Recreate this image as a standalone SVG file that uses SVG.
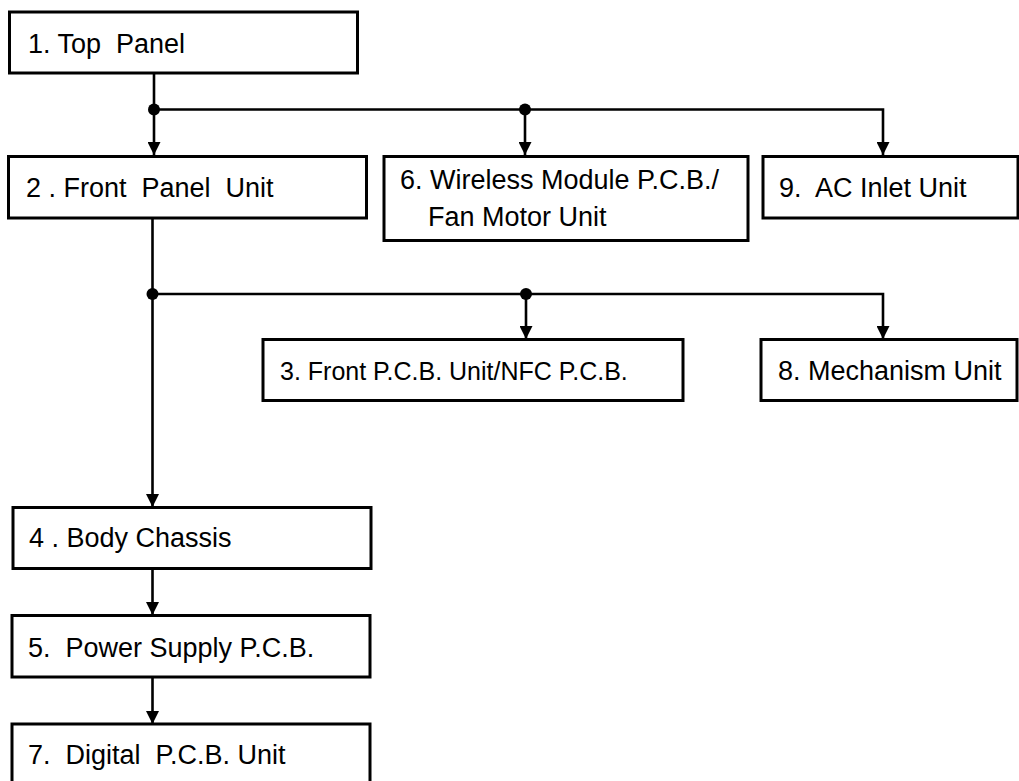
<svg xmlns="http://www.w3.org/2000/svg" width="1019" height="781" viewBox="0 0 1019 781">
<style>
.box{fill:#fff;stroke:#000;stroke-width:3}
.lbl{font-family:"Liberation Sans",Arial,sans-serif;font-size:27px;fill:#000;white-space:pre}
.ln{fill:none;stroke:#000;stroke-width:2.6}
.dot{fill:#000}
</style>
<defs>
<marker id="ah" markerUnits="userSpaceOnUse" markerWidth="13" markerHeight="13" refX="13" refY="6.5" orient="auto">
<path d="M0,0 L13,6.5 L0,13 z" fill="#000"/>
</marker>
</defs>
<g id="connectors">
<path class="ln" d="M154,73 V155" marker-end="url(#ah)"/>
<path class="ln" d="M154,109.5 H883 V155" marker-end="url(#ah)"/>
<path class="ln" d="M525,109.5 V155" marker-end="url(#ah)"/>
<circle class="dot" cx="154" cy="109.5" r="6"/>
<circle class="dot" cx="525" cy="109.5" r="6"/>
<path class="ln" d="M152.5,218 V507" marker-end="url(#ah)"/>
<path class="ln" d="M152.5,294 H883 V339" marker-end="url(#ah)"/>
<path class="ln" d="M526,294 V339" marker-end="url(#ah)"/>
<circle class="dot" cx="152.5" cy="294" r="6"/>
<circle class="dot" cx="526" cy="294" r="6"/>
<path class="ln" d="M152.5,568 V615" marker-end="url(#ah)"/>
<path class="ln" d="M152.5,677 V724" marker-end="url(#ah)"/>
</g>
<g id="n1"><rect class="box" x="9.5" y="12" width="348" height="61"/><text class="lbl" x="28" y="52.5">1. Top  Panel</text></g>
<g id="n2"><rect class="box" x="8.5" y="156.5" width="358" height="61.5"/><text class="lbl" x="26" y="196.5">2 . Front  Panel  Unit</text></g>
<g id="n6"><rect class="box" x="384" y="156.5" width="364" height="84"/><text class="lbl" x="400" y="189">6. Wireless Module P.C.B./</text><text class="lbl" x="428" y="226">Fan Motor Unit</text></g>
<g id="n9"><rect class="box" x="763" y="156.5" width="255" height="61.5"/><text class="lbl" x="779" y="196.5">9.  AC Inlet Unit</text></g>
<g id="n3"><rect class="box" x="263" y="339.5" width="420" height="61"/><text class="lbl" x="280" y="380" style="font-size:25px">3. Front P.C.B. Unit/NFC P.C.B.</text></g>
<g id="n8"><rect class="box" x="761" y="339.5" width="256" height="61"/><text class="lbl" x="778" y="380">8. Mechanism Unit</text></g>
<g id="n4"><rect class="box" x="13" y="507.5" width="358" height="61"/><text class="lbl" x="29" y="546.5">4 . Body Chassis</text></g>
<g id="n5"><rect class="box" x="12" y="615.5" width="358" height="61.5"/><text class="lbl" x="28" y="656.5">5.  Power Supply P.C.B.</text></g>
<g id="n7"><rect class="box" x="12" y="724" width="358" height="62"/><text class="lbl" x="28" y="764">7.  Digital  P.C.B. Unit</text></g>
</svg>
